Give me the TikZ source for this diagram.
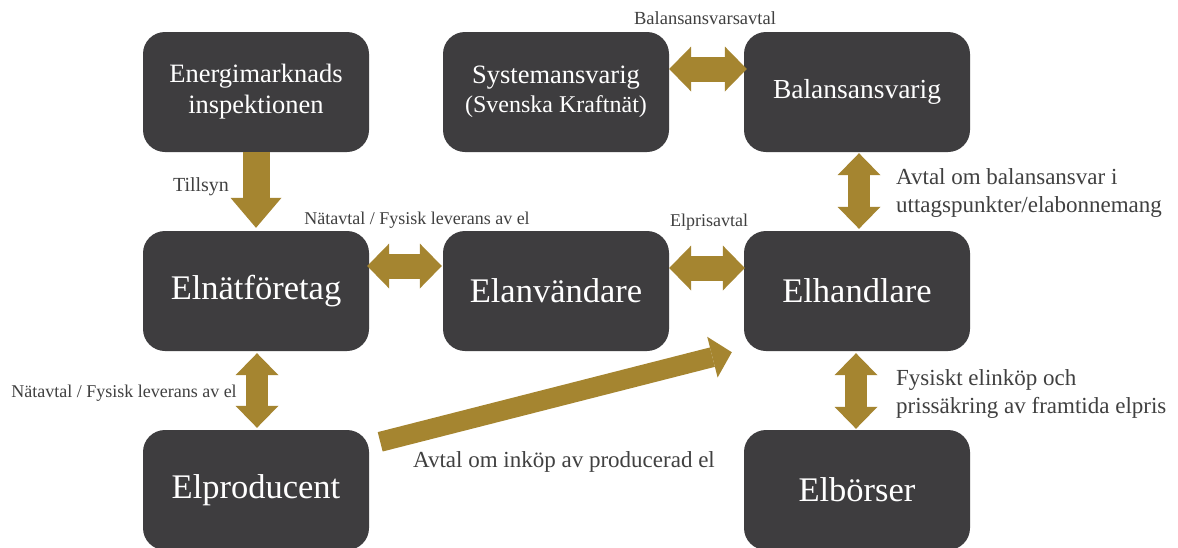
\documentclass[tikz,border=0pt]{standalone}
\usepackage{fontspec}
\setmainfont{Liberation Serif}
\usetikzlibrary{arrows.meta,calc}
\definecolor{boxc}{HTML}{3E3D3F}
\definecolor{gold}{HTML}{A58530}
\definecolor{lbl}{HTML}{404040}
\begin{document}
\begin{tikzpicture}[x=1pt,y=-1pt,
  box/.style={fill=boxc, rounded corners=22pt, minimum width=226pt, minimum height=120pt, text=white, align=center, inner sep=0pt},
  big/.style={font=\fontsize{34.5}{40}\selectfont},
  mid/.style={font=\fontsize{26.5}{31}\selectfont},
  lab/.style={text=lbl, inner sep=0pt},
  sm/.style={font=\fontsize{18}{22}\selectfont},
  md/.style={font=\fontsize{23}{28}\selectfont, align=left},
  harrow/.style={gold, line width=25pt, arrows={Triangle[length=22pt 0 0,width=45pt 0 0,line width=0pt]-Triangle[length=22pt 0 0,width=45pt 0 0,line width=0pt]}},
  varrow/.style={gold, line width=22pt, arrows={Triangle[length=22pt 0 0,width=43pt 0 0,line width=0pt]-Triangle[length=22pt 0 0,width=43pt 0 0,line width=0pt]}},
  tarrow/.style={gold, line width=27pt, arrows={-Triangle[length=30pt 0 0,width=51pt 0 0,line width=0pt]}},
  darrow/.style={gold, line width=20pt, arrows={-Triangle[length=20pt 0 0,width=42pt 0 0,line width=0pt]}}
]
\clip (0,0) rectangle (1178,547);
\fill[white] (0,0) rectangle (1178,547);

\node[box, mid] (ei) at (256,92) {Energimarknads\\inspektionen};
\node[box, font=\fontsize{26.5}{29}\selectfont] (sys) at (556,92) {Systemansvarig\\{\fontsize{24}{29}\selectfont(Svenska Kraftnät)}};
\node[box, font=\fontsize{27.5}{31}\selectfont] (bal) at (857,92) {Balansansvarig};
\node[box, big] (net) at (256,291) {Elnätföretag};
\node[box, big] (anv) at (556,291) {Elanvändare};
\node[box, big] (han) at (857,291) {Elhandlare};
\node[box, big] (prod) at (256,490) {Elproducent};
\node[box, big] (bors) at (857,490) {Elbörser};

\draw[tarrow] (ei.south) -- ($(net.north)+(0,-3)$);
\draw[harrow] ($(net.east)+(-2,-25)$) -- ($(anv.west)+(-1,-25)$);
\draw[harrow] ($(anv.east)+(0,-23)$) -- ($(han.west)+(1,-23)$);
\draw[harrow] ($(sys.east)+(0,-23)$) -- ($(bal.west)+(3,-23)$);
\draw[varrow] ($(bal.south)+(2,1)$) -- ($(han.north)+(2,-2)$);
\draw[varrow] ($(net.south)+(1,2)$) -- ($(prod.north)+(1,-2)$);
\draw[varrow] ($(han.south)+(-1,2)$) -- ($(bors.north)+(-1,-1)$);
\draw[darrow] ($(prod.north east)+(11,12)$) -- ($(han.south west)+(-12,1)$);

\node[lab, font=\fontsize{20}{24}\selectfont] (l1) at (201,187) {Tillsyn};
\node[lab, sm] (l2) at (417,220) {Nätavtal / Fysisk leverans av el};
\node[lab, sm] (l3) at (709,222) {Elprisavtal};
\node[lab, font=\fontsize{18.5}{22}\selectfont] (l4) at (705,18) {Balansansvarsavtal};
\node[lab, sm] (l5) at (124,393) {Nätavtal / Fysisk leverans av el};
\node[lab, md, anchor=west] (l6) at (896,193) {Avtal om balansansvar i\\uttagspunkter/elabonnemang};
\node[lab, md, anchor=west] (l7) at (896,394) {Fysiskt elinköp och\\prissäkring av framtida elpris};
\node[lab, md, anchor=base] (l8) at (564,467) {Avtal om inköp av producerad el};
\end{tikzpicture}
\end{document}
